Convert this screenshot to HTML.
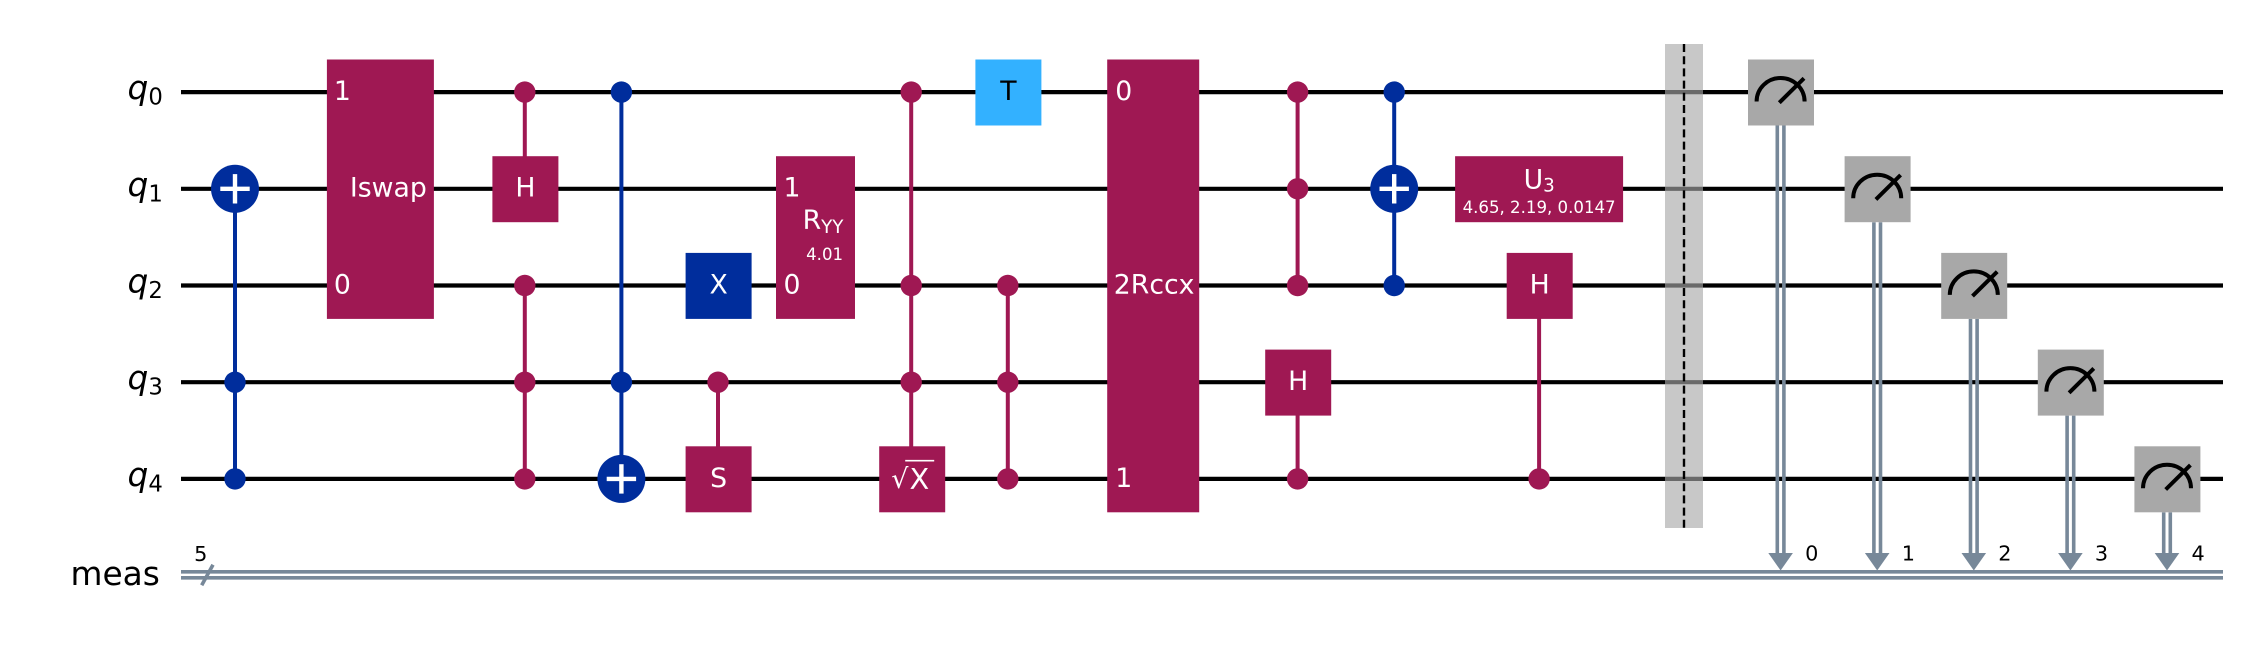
<!DOCTYPE html>
<html lang="en">
<head>
<meta charset="utf-8">
<title>Quantum circuit diagram</title>
<style>
  html, body { margin: 0; padding: 0; background: #ffffff; }
  svg { display: block; font-family: "DejaVu Sans", "Liberation Sans", sans-serif; }
</style>
</head>
<body>
<svg id="circuit" xmlns="http://www.w3.org/2000/svg" width="2245" height="648" viewBox="0 0 2245 648">
  <rect x="0" y="0" width="2245" height="648" fill="#ffffff"></rect>
</svg>
<script>
// ---- circuit data: columns are circuit layout units, wires are qubit indices ----
const qubitIndices = ['0', '1', '2', '3', '4'];
const classicalName = 'meas';
const classicalSize = '5';

// controlled connections: a vertical line through the wires, a dot on each control
const controlLinks = [
  { col: 0, controls: [3, 4], to: 1, family: 'blue' },
  { col: 3, controls: [0], to: 1, family: 'purple' },
  { col: 3, controls: [2, 3, 4], family: 'purple' },
  { col: 4, controls: [0, 3], to: 4, family: 'blue' },
  { col: 5, controls: [3], to: 4, family: 'purple' },
  { col: 7, controls: [0, 2, 3], to: 4, family: 'purple' },
  { col: 8, controls: [2, 3, 4], family: 'purple' },
  { col: 11, controls: [0, 1, 2], family: 'purple' },
  { col: 11, controls: [4], to: 3, family: 'purple' },
  { col: 12, controls: [0, 2], to: 1, family: 'blue' },
  { col: 13.5, controls: [4], to: 2, family: 'purple' }
];

// CNOT target symbols
const targets = [
  { col: 0, wire: 1 },
  { col: 4, wire: 4 },
  { col: 12, wire: 1 }
];

// single-qubit boxes
const singleGates = [
  { label: 'H', col: 3, wire: 1, family: 'purple' },
  { label: 'X', col: 5, wire: 2, family: 'blue' },
  { label: 'S', col: 5, wire: 4, family: 'purple' },
  { label: 'T', col: 8, wire: 0, family: 'cyan' },
  { label: 'H', col: 11, wire: 3, family: 'purple' },
  { label: 'H', col: 13.5, wire: 2, family: 'purple' }
];

const sqrtGates = [{ label: 'X', col: 7, wire: 4 }];

// multi-qubit boxes spanning wires
const spanGates = [
  { label: 'Iswap', col: 1.5, top: 0, bottom: 2, ports: [{ wire: 0, text: '1' }, { wire: 2, text: '0' }] },
  { label: '2Rccx', col: 9.5, top: 0, bottom: 4, ports: [{ wire: 0, text: '0' }, { wire: 4, text: '1' }] }
];

const rotationGates = [
  { label: 'R', sub: 'YY', param: '4.01', col: 6, top: 1, bottom: 2, ports: [{ wire: 1, text: '1' }, { wire: 2, text: '0' }] }
];
const unitaryGates = [
  { label: 'U', sub: '3', param: '4.65, 2.19, 0.0147', col: 13.5, wire: 1 }
];

const barriers = [{ col: 15, top: 0, bottom: 4 }];

// measurements: qubit wire to classical bit
const measurements = [
  { col: 16, wire: 0, bit: '0' },
  { col: 17, wire: 1, bit: '1' },
  { col: 18, wire: 2, bit: '2' },
  { col: 19, wire: 3, bit: '3' },
  { col: 20, wire: 4, bit: '4' }
];

// ---- layout functions and styling ----
const xAt = function (col) { return 235 + 96.6 * col; };
const yAt = function (wire) { return 92.5 + 96.7 * wire; };
const WIRE_X0 = 181, WIRE_X1 = 2223, CREG_Y = 574.8, WIRE_SHIFT = -0.4;
const BOX_W = 66, BOX_H = 66, FS = 26.7, SFS = 16.6, SUBFS = 18.3, LFS = 32.8, BFS = 20.8;
const fills = { purple: '#9f1853', blue: '#002d9c', cyan: '#33b1ff', meter: '#a8a8a8' };
const spanStyle = {
  'Iswap': { w: 107, dx: 0.5, labelX: -30, portX: 7 },
  '2Rccx': { w: 92, dx: 0.5, labelX: -38.9, portX: 8 },
  'R': { w: 79, dx: 0.9, labelX: -12, portX: 7.5, paramX: 10 },
  'U': { w: 168, dx: 0, labelX: -15.5 }
};
const CREG = '#778899';

const NS = 'http://www.w3.org/2000/svg';
const root = document.getElementById('circuit');

function make(parent, tag, attrs, name) {
  const el = document.createElementNS(NS, tag);
  for (const k in attrs) el.setAttribute(k, attrs[k]);
  
  
  parent.appendChild(el);
  return el;
}
function group(name) { return make(root, 'g', {}, name); }
function line(p, x1, y1, x2, y2, stroke, w, name) {
  return make(p, 'line', { x1: x1, y1: y1, x2: x2, y2: y2, stroke: stroke, 'stroke-width': w }, name);
}
function text(p, x, y, str, size, fill, anchor, name) {
  const t = make(p, 'text', { x: x, y: y, 'font-size': size, fill: fill, 'text-anchor': anchor }, name);
  t.textContent = str;
  return t;
}
function subscript(t, str, size, dy, name) {
  const s = make(t, 'tspan', { 'font-size': size, dy: dy, 'font-style': 'normal' }, name);
  s.textContent = str;
  return s;
}
function box(p, cx, y0, y1, w, fill, name) {
  return make(p, 'rect', { x: cx - w / 2, y: y0, width: w, height: y1 - y0, fill: fill }, name);
}

// Wires
const wiresG = group('qubit-wires');
qubitIndices.forEach(function (q, i) {
  line(wiresG, WIRE_X0, yAt(i) + WIRE_SHIFT, WIRE_X1, yAt(i) + WIRE_SHIFT, '#000000', 4.2, 'qubit-wire-q' + q);
  const t = text(wiresG, 127.5, yAt(i) + 6.6, 'q', LFS, '#000000', 'start', 'wire-label-q' + q);
  t.setAttribute('font-style', 'oblique');
  subscript(t, q, 22.75, 5.5, 'wire-label-index-' + q);
});

// Classical register
const cregG = group('classical-register');
line(cregG, WIRE_X0, CREG_Y - 3, WIRE_X1, CREG_Y - 3, CREG, 3.6, 'classical-wire-upper');
line(cregG, WIRE_X0, CREG_Y + 3, WIRE_X1, CREG_Y + 3, CREG, 3.6, 'classical-wire-lower');
line(cregG, 201.7, CREG_Y + 10.5, 213, CREG_Y - 10, CREG, 3.6, 'classical-bundle-slash');
text(cregG, 200.7, 561, classicalSize, BFS, '#000000', 'middle', 'classical-bundle-size');
text(cregG, 70.5, 585, classicalName, LFS, '#000000', 'start', 'classical-register-label');

// Control lines and dots
const ctrlG = group('control-links');
controlLinks.forEach(function (c, n) {
  const wires = c.to === undefined ? c.controls : c.controls.concat([c.to]);
  const x = xAt(c.col);
  line(ctrlG, x, yAt(Math.min.apply(null, wires)), x, yAt(Math.max.apply(null, wires)), fills[c.family], 4, 'control-line-' + n);
  c.controls.forEach(function (w) {
    make(ctrlG, 'ellipse', { cx: x, cy: yAt(w) + WIRE_SHIFT, rx: 10.7, ry: 10.7, fill: fills[c.family] }, 'control-dot-' + n + '-q' + w);
  });
});

// CNOT targets
const targG = group('cnot-targets');
targets.forEach(function (t, n) {
  const x = xAt(t.col), y = yAt(t.wire) + WIRE_SHIFT;
  make(targG, 'circle', { cx: x, cy: y, r: 24, fill: fills.blue }, 'cnot-target-circle-' + n);
  line(targG, x - 14.7, y, x + 14.7, y, '#ffffff', 4.4, 'cnot-plus-horizontal-' + n);
  line(targG, x, y - 14.7, x, y + 14.7, '#ffffff', 4.4, 'cnot-plus-vertical-' + n);
});

// Single-qubit gates
const gatesG = group('gates');
singleGates.forEach(function (g, n) {
  const x = xAt(g.col) + 0.6, y = yAt(g.wire);
  box(gatesG, x, y - BOX_H / 2, y + BOX_H / 2, BOX_W, fills[g.family], 'gate-' + g.label + '-box-' + n);
  text(gatesG, x, y + 7.5, g.label, FS, g.family === 'cyan' ? '#000000' : '#ffffff', 'middle', 'gate-' + g.label + '-label-' + n);
});

// sqrt-X gates
sqrtGates.forEach(function (g, n) {
  const x = xAt(g.col) + 1, y = yAt(g.wire);
  box(gatesG, x, y - BOX_H / 2, y + BOX_H / 2, BOX_W, fills.purple, 'gate-sqrt-x-box-' + n);
  text(gatesG, x - 21, y + 8.5, '\u221A', 27, '#ffffff', 'start', 'gate-sqrt-radical-' + n);
  text(gatesG, x + 7.2, y + 9.7, g.label, 28.8, '#ffffff', 'middle', 'gate-sqrt-x-label-' + n);
  line(gatesG, x - 7, y - 18.6, x + 22, y - 18.6, '#ffffff', 1.6, 'gate-sqrt-overline-' + n);
});

function ports(g, s, cx) {
  g.ports.forEach(function (p) {
    text(gatesG, cx - s.w / 2 + s.portX, yAt(p.wire) + 7.5, p.text, FS, '#ffffff', 'start', 'gate-' + g.label + '-port-' + p.text);
  });
}

// Spanning gates
spanGates.forEach(function (g) {
  const s = spanStyle[g.label], cx = xAt(g.col) + s.dx;
  box(gatesG, cx, yAt(g.top) - BOX_H / 2, yAt(g.bottom) + BOX_H / 2, s.w, fills.purple, 'gate-' + g.label + '-box');
  ports(g, s, cx);
  text(gatesG, xAt(g.col) + s.labelX, yAt((g.top + g.bottom) / 2) + 7.5, g.label, FS, '#ffffff', 'start', 'gate-' + g.label + '-label');
});

// Rotation gates
rotationGates.forEach(function (g) {
  const s = spanStyle[g.label], cx = xAt(g.col) + s.dx;
  box(gatesG, cx, yAt(g.top) - BOX_H / 2, yAt(g.bottom) + BOX_H / 2, s.w, fills.purple, 'gate-rotation-box');
  ports(g, s, cx);
  const mid = (yAt(g.top) + yAt(g.bottom)) / 2;
  const t = text(gatesG, xAt(g.col) + s.labelX, mid - 8.5, g.label, FS, '#ffffff', 'start', 'gate-rotation-label');
  subscript(t, g.sub, SUBFS, 4, 'gate-rotation-subscript');
  text(gatesG, xAt(g.col) + s.paramX, mid + 22.5, g.param, SFS, '#ffffff', 'middle', 'gate-rotation-parameter');
});

// U gates
unitaryGates.forEach(function (g) {
  const s = spanStyle[g.label], cx = xAt(g.col) + s.dx, y = yAt(g.wire);
  box(gatesG, cx, y - BOX_H / 2, y + BOX_H / 2, s.w, fills.purple, 'gate-u3-box');
  const t = text(gatesG, cx + s.labelX, y - 0.8, g.label, FS, '#ffffff', 'start', 'gate-u3-label');
  subscript(t, g.sub, SUBFS, 3, 'gate-u3-subscript');
  text(gatesG, cx, y + 24, g.param, SFS, '#ffffff', 'middle', 'gate-u3-parameters');
});

// Barriers
const barG = group('barriers');
barriers.forEach(function (b, n) {
  const x = xAt(b.col), y0 = yAt(b.top) - 48.5, y1 = yAt(b.bottom) + 48.7;
  make(barG, 'rect', { x: x - 19, y: y0, width: 38, height: y1 - y0, fill: '#a8a8a8', 'fill-opacity': 0.63 }, 'barrier-band-' + n);
  const d = line(barG, x, y0, x, y1, '#000000', 2.4, 'barrier-dashed-line-' + n);
  d.setAttribute('stroke-dasharray', '8 4.2');
});

// Measurements
const measG = group('measurements');
measurements.forEach(function (m) {
  const x = xAt(m.col), y = yAt(m.wire), bottom = y + BOX_H / 2;
  line(measG, x - 3.3, bottom, x - 3.3, 554, CREG, 3.6, 'measure-line-left-' + m.bit);
  line(measG, x + 3.3, bottom, x + 3.3, 554, CREG, 3.6, 'measure-line-right-' + m.bit);
  make(measG, 'polygon', { points: (x - 12.3) + ',553 ' + (x + 12.3) + ',553 ' + x + ',570.5', fill: CREG }, 'measure-arrow-' + m.bit);
  box(measG, x + 0.4, y - BOX_H / 2, y + BOX_H / 2, BOX_W, fills.meter, 'measure-box-' + m.bit);
  make(measG, 'path', { d: 'M ' + (x - 24) + ' ' + (y + 9) + ' A 24 23.5 0 0 1 ' + (x + 24) + ' ' + (y + 9), fill: 'none', stroke: '#000000', 'stroke-width': 4 }, 'measure-dial-arc-' + m.bit);
  line(measG, x - 1.3, y + 10.2, x + 23.4, y - 14.2, '#000000', 4, 'measure-dial-needle-' + m.bit);
  text(measG, x + 24.5, 560.7, m.bit, BFS, '#000000', 'start', 'measure-bit-label-' + m.bit);
});
</script>
</body>
</html>
